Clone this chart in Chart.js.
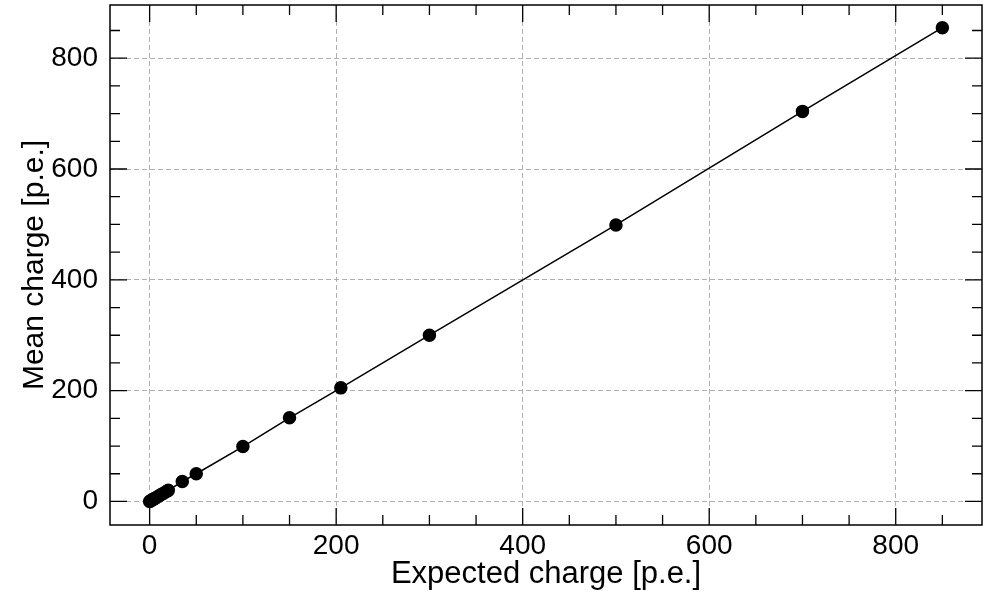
<!DOCTYPE html>
<html>
<head>
<meta charset="utf-8">
<script src="https://cdn.jsdelivr.net/npm/chart.js@4.4.1/dist/chart.umd.min.js"></script>
<style>
  html, body { margin: 0; padding: 0; background: #fff; }
  #wrap { width: 987px; height: 593px; }
</style>
</head>
<body>
<div id="wrap"><canvas id="linearity"></canvas></div>
<script>
// data
const expectedCharge = [0, 1, 2, 3, 4, 5, 6, 8, 10, 12, 15, 18, 20, 35, 50, 100, 150, 205, 300, 500, 700, 850];
const meanCharge = [0, 1, 2, 3, 4, 5, 6, 8, 10, 12, 15, 18, 20, 36, 50, 99, 151, 205, 300, 499, 704, 855];
const xTitle = "Expected charge [p.e.]";
const yTitle = "Mean charge [p.e.]";

const FONT = "'Liberation Sans', Arial, Helvetica, sans-serif";
const points = expectedCharge.map((x, i) => ({ x: x, y: meanCharge[i] }));

const isMajor = v => Math.abs(v % 200) < 1e-6;

// frame + inward ticks on all four sides, like matplotlib
const framePlugin = {
  id: "frame",
  afterDraw(chart) {
    const { ctx, chartArea: a, scales } = chart;
    ctx.save();
    ctx.strokeStyle = "#000";
    ctx.lineWidth = 1.3;
    scales.x.ticks.forEach(t => {
      const px = scales.x.getPixelForValue(t.value);
      const len = isMajor(t.value) ? 17 : 10;
      ctx.beginPath();
      ctx.moveTo(px, a.bottom); ctx.lineTo(px, a.bottom - len);
      ctx.moveTo(px, a.top); ctx.lineTo(px, a.top + len);
      ctx.stroke();
    });
    scales.y.ticks.forEach(t => {
      const py = scales.y.getPixelForValue(t.value);
      const len = isMajor(t.value) ? 17 : 10;
      ctx.beginPath();
      ctx.moveTo(a.left, py); ctx.lineTo(a.left + len, py);
      ctx.moveTo(a.right, py); ctx.lineTo(a.right - len, py);
      ctx.stroke();
    });
    ctx.lineWidth = 1.5;
    ctx.strokeRect(a.left, a.top, a.right - a.left, a.bottom - a.top);
    ctx.restore();
  }
};

const gridColor = c => isMajor(c.tick.value) ? "#b0b0b0" : "rgba(0,0,0,0)";

const config = {
  type: "scatter",
  data: {
    datasets: [{
      data: points,
      showLine: true,
      borderColor: "#000",
      backgroundColor: "#000",
      borderWidth: 1.5,
      pointRadius: 6,
      pointHoverRadius: 6,
    }],
  },
  options: {
    responsive: true,
    maintainAspectRatio: false,
    animation: false,
    layout: { autoPadding: false, padding: { top: 5, right: 5, left: 0, bottom: 0 } },
    plugins: { legend: { display: false }, tooltip: { enabled: false } },
    scales: {
      x: {
        type: "linear",
        min: -42.5,
        max: 892.5,
        border: { display: false, dash: [5, 3] },
        grid: { drawTicks: false, color: gridColor, lineWidth: 1 },
        ticks: {
          stepSize: 50,
          includeBounds: false,
          autoSkip: false,
          maxRotation: 0,
          padding: 4,
          color: "#000",
          font: { family: FONT, size: 28 },
          callback: v => isMajor(v) ? String(v) : "",
        },
        title: {
          display: true,
          text: xTitle,
          color: "#000",
          font: { family: FONT, size: 31 },
          padding: { top: 0, bottom: 0 },
        },
        afterFit: s => { s.height = 68; s.paddingLeft = 0; s.paddingRight = 0; },
      },
      y: {
        type: "linear",
        min: -42.5,
        max: 896,
        border: { display: false, dash: [5, 3] },
        grid: { drawTicks: false, color: gridColor, lineWidth: 1 },
        ticks: {
          stepSize: 50,
          includeBounds: false,
          autoSkip: false,
          padding: 12,
          color: "#000",
          font: { family: FONT, size: 28 },
          callback: v => isMajor(v) ? String(v) : "",
        },
        title: {
          display: true,
          text: yTitle,
          color: "#000",
          font: { family: FONT, size: 30 },
          padding: { top: 17, bottom: 0 },
        },
        afterFit: s => { s.width = 110; s.paddingTop = 0; s.paddingBottom = 0; },
      },
    },
  },
  plugins: [framePlugin],
};

const myChart = new Chart(document.getElementById("linearity"), config);
</script>
</body>
</html>
